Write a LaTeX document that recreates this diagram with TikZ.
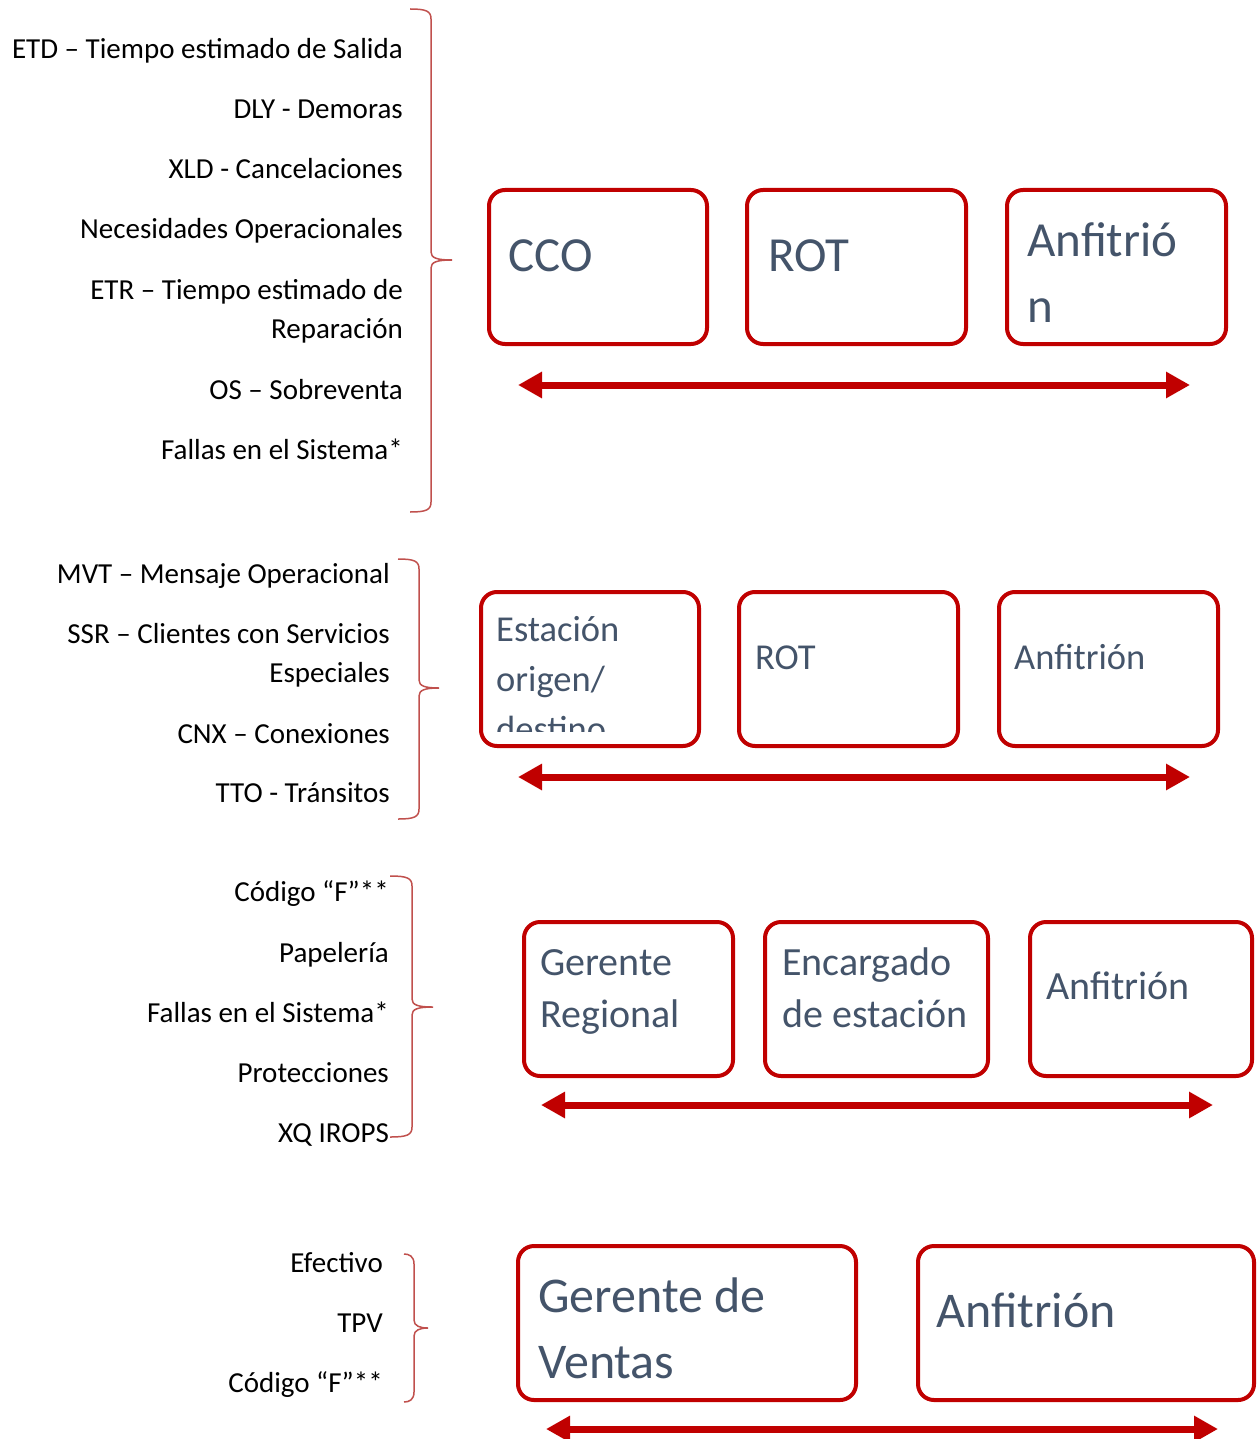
\documentclass[tikz,border=0pt]{standalone}
\usepackage{fontspec}
\setmainfont{Carlito}
\usepackage{tikz}
\usetikzlibrary{arrows.meta}

\definecolor{boxred}{HTML}{C00000}
\definecolor{bracered}{HTML}{C0504D}
\definecolor{boxtext}{HTML}{44546A}

% curly bracket: end x, spine x, tip x, top y, middle y, bottom y
\newcommand{\curlybr}[6]{%
  \draw[brc] (#1,#4) .. controls (#2-5,#4) and (#2,#4+2) .. (#2,#4+10)
    -- (#2,#5-8) .. controls (#2,#5-2) and (#2+6,#5) .. (#3,#5)
    .. controls (#2+6,#5) and (#2,#5+2) .. (#2,#5+8)
    -- (#2,#6-10) .. controls (#2,#6-2) and (#2-5,#6) .. (#1,#6);}

\begin{document}
\begin{tikzpicture}[
    x=1pt, y=-1pt,
    lbl/.style={anchor=base east, align=flush right, inner sep=0pt, text width=420pt,
      font=\fontsize{29}{39}\selectfont},
    box/.style={draw=boxred, line width=4pt, rounded corners=16pt, anchor=north west,
      inner sep=0pt, minimum height=154pt},
    boxtxt/.style={anchor=base west, align=flush left, inner sep=0pt, text width=330pt, text=boxtext},
    txtone/.style={boxtxt, font=\fontsize{49}{66}\selectfont},
    txttwo/.style={boxtxt, font=\fontsize{36.5}{50}\selectfont},
    txtthree/.style={boxtxt, font=\fontsize{40}{52}\selectfont},
    txtfour/.style={boxtxt, font=\fontsize{50}{66}\selectfont},
    brc/.style={draw=bracered, line width=1.5pt},
    biarr/.style={{Triangle[length=24pt,width=25pt]}-{Triangle[length=24pt,width=25pt]},
      draw=boxred, line width=7pt}
  ]
  \useasboundingbox (0,0) rectangle (1257,1439);

  % first group
  \node[lbl] (etd) at (403,59) {ETD – Tiempo estimado de Salida};
  \node[lbl] (dly) at (403,119) {DLY - Demoras};
  \node[lbl] (xld) at (403,179) {XLD - Cancelaciones};
  \node[lbl] (nec) at (403,239) {Necesidades Operacionales};
  \node[lbl] (etr) at (403,299) {ETR – Tiempo estimado de\\Reparación};
  \node[lbl] (os) at (403,399) {OS – Sobreventa};
  \node[lbl] (fal1) at (403,459) {Fallas en el Sistema*};
  \curlybr{410}{431}{452}{9}{260}{512}

  \node[box, minimum width=218pt] (cco) at (487,188) {};
  \node[box, minimum width=219pt] (rot1) at (745,188) {};
  \node[box, minimum width=219pt] (anf1) at (1005,188) {};
  \node[txtone] (cco-t) at (508,272) {CCO};
  \node[txtone] (rot1-t) at (768,272) {ROT};
  \node[txtone] (anf1-t) at (1027,257) {Anfitrió\\n};
  \coordinate (a1l) at (518,385);
  \coordinate (a1r) at (1190,385);
  \draw[biarr] (a1l) -- (a1r);

  % second group
  \node[lbl] (mvt) at (390,583) {MVT – Mensaje Operacional};
  \node[lbl] (ssr) at (390,643) {SSR – Clientes con Servicios\\Especiales};
  \node[lbl] (cnx) at (390,743) {CNX – Conexiones};
  \node[lbl] (tto) at (390,802) {TTO - Tránsitos};
  \curlybr{398}{419}{439}{559}{688}{819}

  \node[box, minimum width=218pt] (est) at (479,590) {};
  \node[box, minimum width=219pt] (rot2) at (737,590) {};
  \node[box, minimum width=219pt] (anf2) at (997,590) {};
  \begin{scope}
    \clip (481,592) rectangle (699,731);
    \node[txttwo] (est-t) at (496,641) {Estación\\origen/\\destino};
  \end{scope}
  \node[txttwo] (rot2-t) at (755,669) {ROT};
  \node[txttwo] (anf2-t) at (1014,669) {Anfitrión};
  \coordinate (a2l) at (518,777);
  \coordinate (a2r) at (1190,777);
  \draw[biarr] (a2l) -- (a2r);

  % third group
  \node[lbl] (cod1) at (389,901) {Código “F”**};
  \node[lbl] (pap) at (389,962) {Papelería};
  \node[lbl] (fal2) at (389,1022) {Fallas en el Sistema*};
  \node[lbl] (pro) at (389,1082) {Protecciones};
  \node[lbl] (xq) at (389,1142) {XQ IROPS};
  \curlybr{390}{412}{433}{876}{1007}{1137}

  \node[box, minimum width=209pt] (ger) at (522,920) {};
  \node[box, minimum width=223pt] (enc) at (763,920) {};
  \node[box, minimum width=222pt] (anf3) at (1028,920) {};
  \node[txtthree] (ger-t) at (540,975) {Gerente\\Regional};
  \node[txtthree] (enc-t) at (782,975) {Encargado\\de estación};
  \node[txtthree] (anf3-t) at (1046,999) {Anfitrión};
  \coordinate (a3l) at (541,1105);
  \coordinate (a3r) at (1213,1105);
  \draw[biarr] (a3l) -- (a3r);

  % fourth group
  \node[lbl] (efe) at (383,1272) {Efectivo};
  \node[lbl] (tpv) at (383,1332) {TPV};
  \node[lbl] (cod2) at (383,1392) {Código “F”**};
  \curlybr{404}{414}{428}{1254}{1328}{1402}

  \node[box, minimum width=338pt] (gv) at (516,1244) {};
  \node[box, minimum width=336pt] (anf4) at (916,1244) {};
  \node[txtfour] (gv-t) at (538,1312) {Gerente de\\Ventas};
  \node[txtfour] (anf4-t) at (936,1327) {Anfitrión};
  \coordinate (a4l) at (546,1429);
  \coordinate (a4r) at (1218,1429);
  \draw[biarr] (a4l) -- (a4r);
\end{tikzpicture}
\end{document}
